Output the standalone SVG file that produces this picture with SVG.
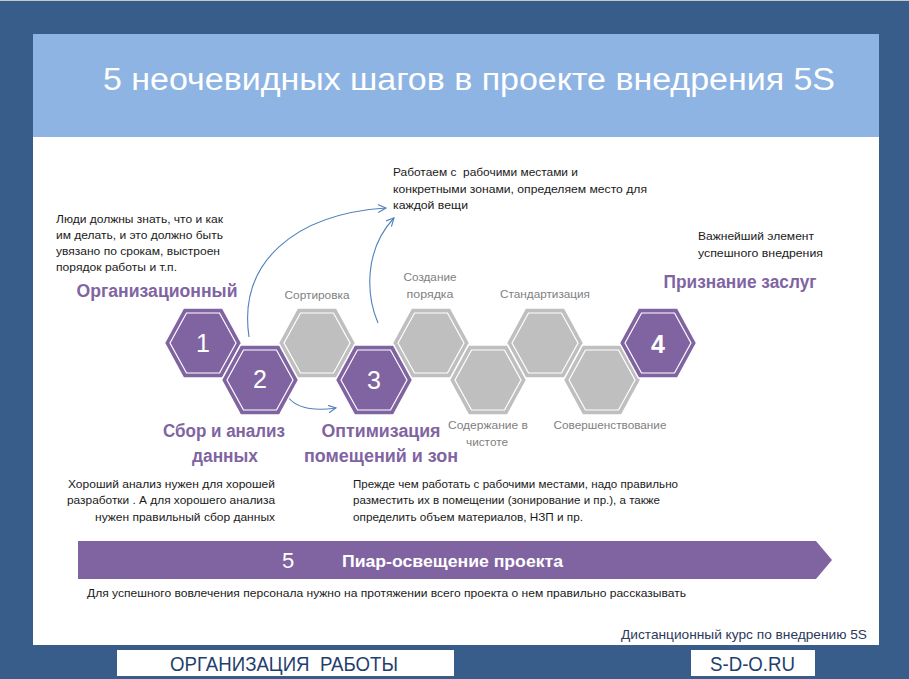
<svg xmlns="http://www.w3.org/2000/svg" xmlns:xlink="http://www.w3.org/1999/xlink" width="909" height="679" viewBox="0 0 909 679">
<style>
text{font-family:"Liberation Sans",Arial,sans-serif;white-space:pre}
.body{font-size:11px;fill:#1a1a1a}
.gl{font-size:11px;fill:#7f7f7f}
.hd{font-size:18px;font-weight:bold;fill:#8064a2}
.num{font-size:25px;fill:#fff;text-anchor:middle}
.pu{fill:#8064a2;stroke:#fff;stroke-width:1.5}
.gr{fill:#bfbfbf;stroke:#fff;stroke-width:1.5}
.in{fill:none;stroke:#fff;stroke-width:1.2}
.con{fill:none;stroke:#4f81bd;stroke-width:1.1}
.foot{font-size:20px;fill:#1f3f6e}
</style>
<defs>
<polygon id="hexO" points="-38.5,0 -19.5,-35 19.5,-35 38.5,0 19.5,35 -19.5,35"/>
<polygon id="hexI" points="-33,0 -16.5,-30 16.5,-30 33,0 16.5,30 -16.5,30"/>
<marker id="ah" markerWidth="10" markerHeight="10" refX="8" refY="4" orient="auto" markerUnits="userSpaceOnUse">
<path d="M0,0 L8,4 L0,8" fill="none" stroke="#4f81bd" stroke-width="1.1"/>
</marker>
</defs>
<rect x="0" y="0" width="909" height="679" fill="#385d8a"/>
<rect x="0" y="0" width="909" height="1" fill="#c8c8c8"/>
<rect x="33" y="34" width="846" height="611" fill="#fff"/>
<rect x="33" y="34" width="846" height="103" fill="#8eb4e3"/>
<text x="103" y="90" font-size="31" fill="#fff" textLength="732" lengthAdjust="spacingAndGlyphs">5 неочевидных шагов в проекте внедрения 5S</text>

<g id="connectors">
<path class="con" d="M249,337 C238,262 295,214 386,208" marker-end="url(#ah)"/>
<path class="con" d="M378,323 C366,295 364,250 394,218" marker-end="url(#ah)"/>
<path class="con" d="M288,397 Q300,413 336,408" marker-end="url(#ah)"/>
</g>

<g id="n1" transform="translate(203,343)"><use xlink:href="#hexO" class="pu"/><use xlink:href="#hexI" class="in"/><text class="num" y="9">1</text></g>
<g id="sort" transform="translate(317,343)"><use xlink:href="#hexO" class="gr"/><use xlink:href="#hexI" class="in"/></g>
<g id="n2" transform="translate(260,380)"><use xlink:href="#hexO" class="pu"/><use xlink:href="#hexI" class="in"/><text class="num" y="8">2</text></g>
<g id="order" transform="translate(431,343)"><use xlink:href="#hexO" class="gr"/><use xlink:href="#hexI" class="in"/></g>
<g id="n3" transform="translate(374,380)"><use xlink:href="#hexO" class="pu"/><use xlink:href="#hexI" class="in"/><text class="num" y="9">3</text></g>
<g id="std" transform="translate(545,343)"><use xlink:href="#hexO" class="gr"/><use xlink:href="#hexI" class="in"/></g>
<g id="clean" transform="translate(488,380)"><use xlink:href="#hexO" class="gr"/><use xlink:href="#hexI" class="in"/></g>
<g id="impr" transform="translate(602,380)"><use xlink:href="#hexO" class="gr"/><use xlink:href="#hexI" class="in"/></g>
<g id="n4" transform="translate(658,343)"><use xlink:href="#hexO" class="pu"/><use xlink:href="#hexI" class="in"/><text class="num" y="10" font-weight="bold">4</text></g>

<g id="labels">
<text class="gl" x="317" y="299" text-anchor="middle" textLength="65" lengthAdjust="spacingAndGlyphs">Сортировка</text>
<text class="gl" x="430" y="281" text-anchor="middle" textLength="53" lengthAdjust="spacingAndGlyphs">Создание</text>
<text class="gl" x="430" y="298" text-anchor="middle" textLength="47" lengthAdjust="spacingAndGlyphs">порядка</text>
<text class="gl" x="545" y="298" text-anchor="middle" textLength="90" lengthAdjust="spacingAndGlyphs">Стандартизация</text>
<text class="gl" x="488" y="429" text-anchor="middle" textLength="80" lengthAdjust="spacingAndGlyphs">Содержание в</text>
<text class="gl" x="487" y="446" text-anchor="middle" textLength="42" lengthAdjust="spacingAndGlyphs">чистоте</text>
<text class="gl" x="610" y="429" text-anchor="middle" textLength="113" lengthAdjust="spacingAndGlyphs">Совершенствование</text>

<text class="hd" x="157" y="297" text-anchor="middle" textLength="161" lengthAdjust="spacingAndGlyphs">Организационный</text>
<text class="hd" x="740" y="288" text-anchor="middle" textLength="153" lengthAdjust="spacingAndGlyphs">Признание заслуг</text>
<text class="hd" x="224" y="437" text-anchor="middle" textLength="122" lengthAdjust="spacingAndGlyphs">Сбор и анализ</text>
<text class="hd" x="225" y="462" text-anchor="middle" textLength="66" lengthAdjust="spacingAndGlyphs">данных</text>
<text class="hd" x="381" y="437" text-anchor="middle" textLength="119" lengthAdjust="spacingAndGlyphs">Оптимизация</text>
<text class="hd" x="381" y="462" text-anchor="middle" textLength="154" lengthAdjust="spacingAndGlyphs">помещений и зон</text>

<text class="body" x="56" y="223" textLength="167" lengthAdjust="spacingAndGlyphs">Люди должны знать, что и как</text>
<text class="body" x="56" y="239" textLength="167" lengthAdjust="spacingAndGlyphs">им делать, и это должно быть</text>
<text class="body" x="56" y="255" textLength="164" lengthAdjust="spacingAndGlyphs">увязано по срокам, выстроен</text>
<text class="body" x="56" y="271" textLength="121" lengthAdjust="spacingAndGlyphs">порядок работы и т.п.</text>

<text class="body" x="393" y="176" textLength="185" lengthAdjust="spacingAndGlyphs">Работаем с  рабочими местами и</text>
<text class="body" x="393" y="193" textLength="254" lengthAdjust="spacingAndGlyphs">конкретными зонами, определяем место для</text>
<text class="body" x="393" y="209" textLength="75" lengthAdjust="spacingAndGlyphs">каждой вещи</text>

<text class="body" x="698" y="240" textLength="116" lengthAdjust="spacingAndGlyphs">Важнейший элемент</text>
<text class="body" x="698" y="257" textLength="125" lengthAdjust="spacingAndGlyphs">успешного внедрения</text>

<text class="body" x="275" y="488" text-anchor="end" textLength="207" lengthAdjust="spacingAndGlyphs">Хороший анализ нужен для хорошей</text>
<text class="body" x="275" y="504" text-anchor="end" textLength="208" lengthAdjust="spacingAndGlyphs">разработки . А для хорошего анализа</text>
<text class="body" x="275" y="521" text-anchor="end" textLength="180" lengthAdjust="spacingAndGlyphs">нужен правильный сбор данных</text>

<text class="body" x="353" y="488" textLength="325" lengthAdjust="spacingAndGlyphs">Прежде чем работать с рабочими местами, надо правильно</text>
<text class="body" x="353" y="504" textLength="307" lengthAdjust="spacingAndGlyphs">разместить их в помещении (зонирование и пр.), а также</text>
<text class="body" x="353" y="521" textLength="230" lengthAdjust="spacingAndGlyphs">определить объем материалов, НЗП и пр.</text>
</g>

<g id="n5">
<polygon points="78,541 816,541 832,560 816,579 78,579" fill="#8064a2"/>
<text x="288" y="568" font-size="22" fill="#fff" text-anchor="middle">5</text>
<text x="342" y="567" font-size="16" font-weight="bold" fill="#fff" textLength="221" lengthAdjust="spacingAndGlyphs">Пиар-освещение проекта</text>
</g>
<text class="body" x="87" y="597" textLength="599" lengthAdjust="spacingAndGlyphs">Для успешного вовлечения персонала нужно на протяжении всего проекта о нем правильно рассказывать</text>

<text x="867" y="639" font-size="13" fill="#2b3a5c" text-anchor="end" textLength="246" lengthAdjust="spacingAndGlyphs">Дистанционный курс по внедрению 5S</text>
<rect x="117" y="650" width="337" height="26" fill="#fff"/>
<text class="foot" x="170" y="671" textLength="228" lengthAdjust="spacingAndGlyphs">ОРГАНИЗАЦИЯ  РАБОТЫ</text>
<rect x="691" y="650" width="124" height="26" fill="#fff"/>
<text class="foot" x="710" y="671" textLength="85" lengthAdjust="spacingAndGlyphs">S-D-O.RU</text>
</svg>
